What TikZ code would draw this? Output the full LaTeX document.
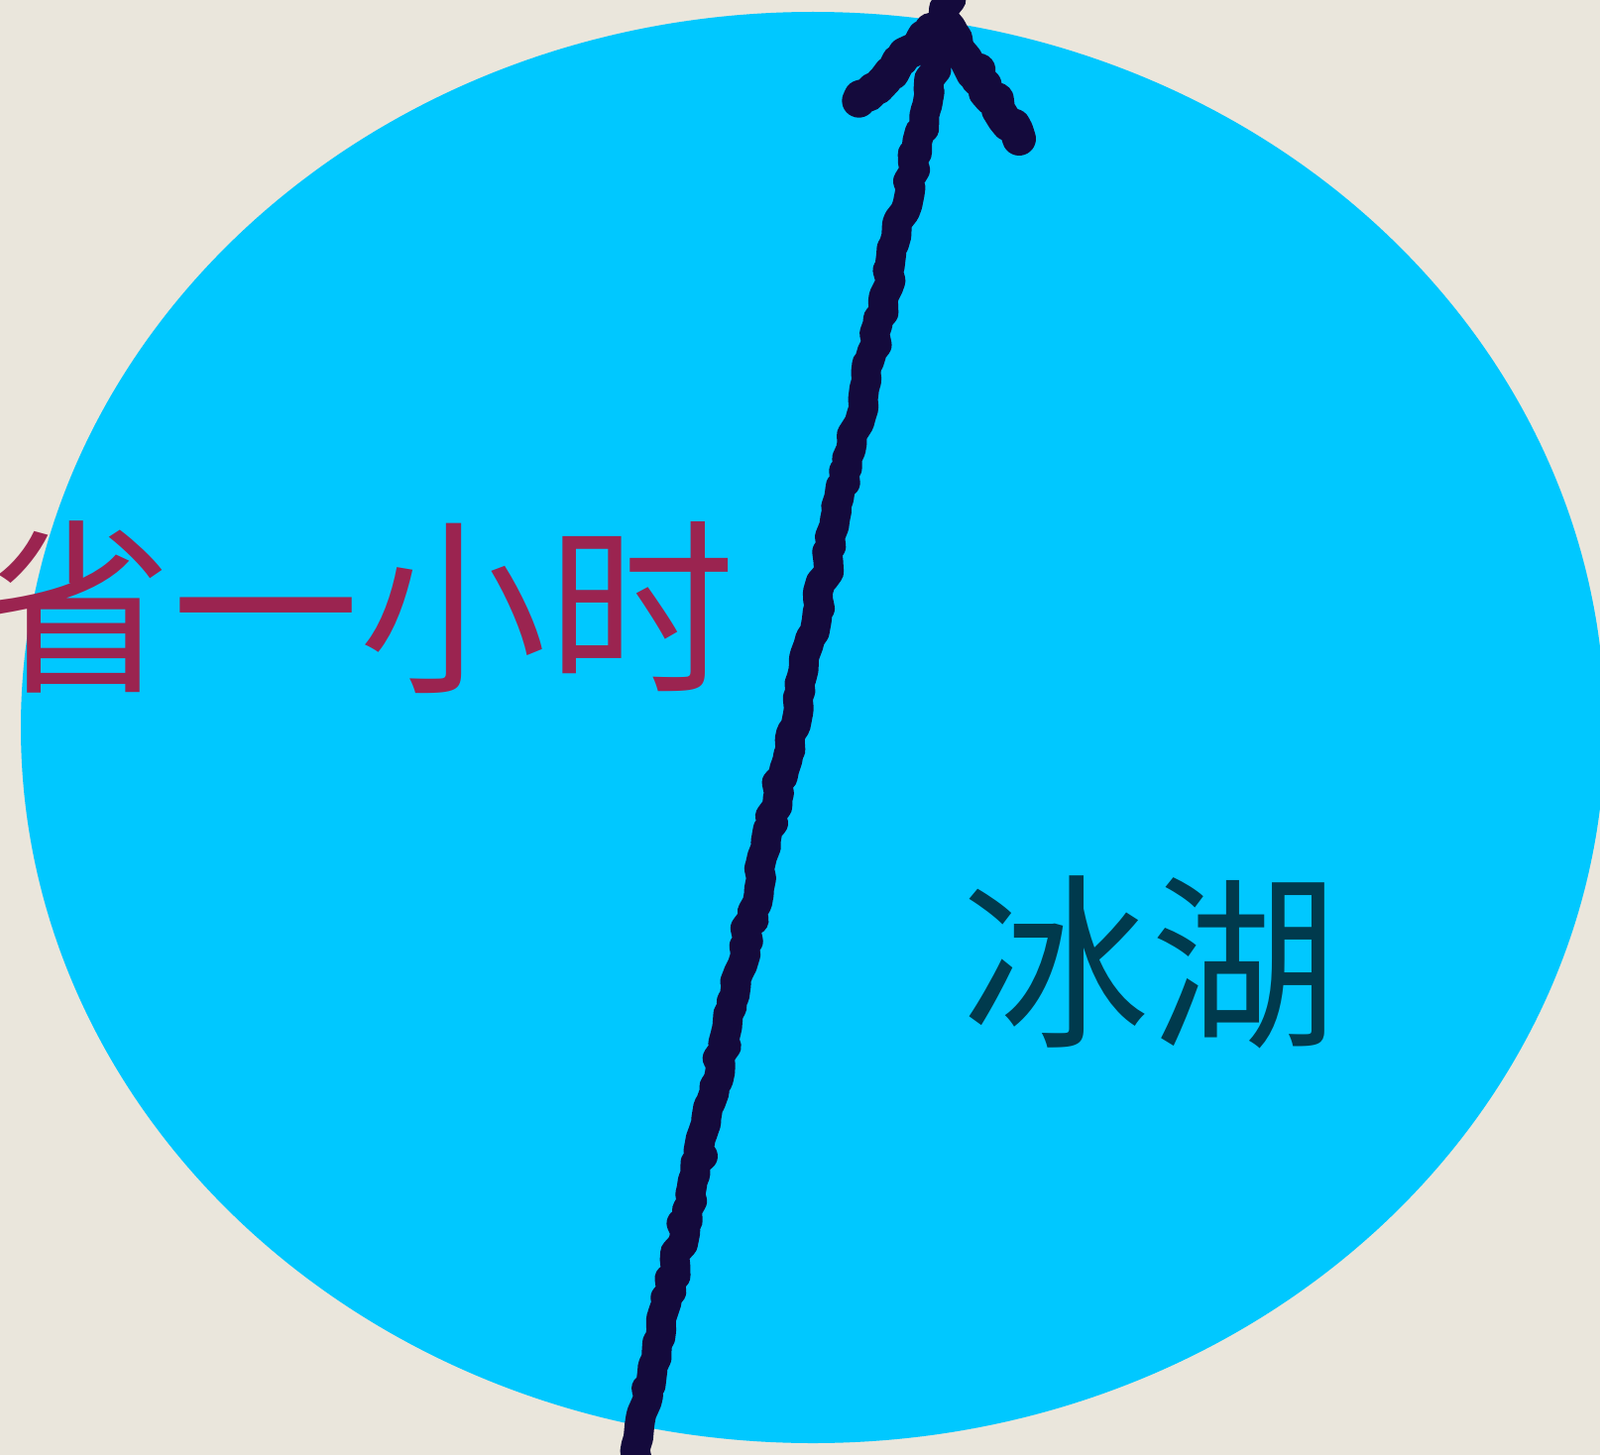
\documentclass[tikz,border=0pt]{standalone}
\usepackage{fontspec}
\newfontfamily\cjk{Noto Sans CJK SC}
\usetikzlibrary{decorations.pathmorphing}
\definecolor{bgbeige}{HTML}{EAE6DC}
\definecolor{lakecyan}{HTML}{00C8FF}
\definecolor{magtext}{HTML}{9B2450}
\definecolor{tealtext}{HTML}{003A4D}
\definecolor{chalk}{HTML}{140A3C}
\tikzset{
  lbl/.style={inner sep=0pt, anchor=base, font=\cjk\fontsize{190}{190}\selectfont},
  chalkline/.style={draw=chalk, line width=30bp, line cap=round, line join=round,
    decorate, decoration={random steps, segment length=8bp, amplitude=3.5bp}},
  barb/.style={draw=chalk, line width=34bp, line cap=round, line join=round,
    decorate, decoration={random steps, segment length=7bp, amplitude=3.5bp}}
}
\begin{document}
\begin{tikzpicture}[x=1bp,y=-1bp]
  \fill[bgbeige] (0,0) rectangle (1614,1468);
  \useasboundingbox (0,0) rectangle (1614,1468);
  \begin{scope}
    \clip (0,0) rectangle (1614,1468);
    \fill[lakecyan] (820,734) ellipse [x radius=799, y radius=722];
    \node[lbl, text=magtext] (save) at (363,684) {省一小时};
    \node[lbl, text=tealtext] (lake) at (1160,1042) {冰湖};
    \coordinate (start) at (638,1480);
    \coordinate (apex) at (952,22);
    \coordinate (top) at (960,-14);
    \coordinate (lbarb) at (866,102);
    \coordinate (rbarb) at (1028,140);
    \path[chalkline] (start) -- (top);
    \path[barb] (apex) -- (lbarb);
    \path[barb] (apex) -- (rbarb);
  \end{scope}
\end{tikzpicture}
\end{document}
